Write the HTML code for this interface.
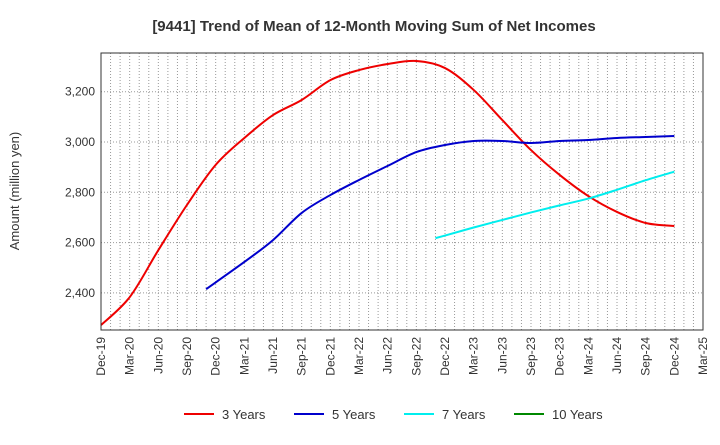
<!DOCTYPE html>
<html><head><meta charset="utf-8"><style>
body{margin:0;background:#fff;font-family:"Liberation Sans",sans-serif}
</style></head><body>
<svg id="c" width="720" height="440" xmlns="http://www.w3.org/2000/svg">
<text x="374" y="31" text-anchor="middle" font-size="15" font-weight="bold" fill="#333">[9441]  Trend of Mean of 12-Month Moving Sum of Net Incomes</text>
<text transform="translate(19,191) rotate(-90)" text-anchor="middle" font-size="13" fill="#333">Amount (million yen)</text>
<g id="grid"></g><g id="series"></g><g id="axes"></g><g id="legend"></g>
</svg>
<script>
const xTicks=["Dec-19","Mar-20","Jun-20","Sep-20","Dec-20","Mar-21","Jun-21","Sep-21","Dec-21","Mar-22","Jun-22","Sep-22","Dec-22","Mar-23","Jun-23","Sep-23","Dec-23","Mar-24","Jun-24","Sep-24","Dec-24","Mar-25"];
const yTicks=[2400,2600,2800,3000,3200];
const months3=[0,3,6,9,12,15,18,21,24,27,30,33,36,39,42,45,48,51,54,57,60];
const vals3=[2272,2383,2570,2750,2909,3016,3107,3167,3246,3286,3310,3322,3294,3207,3087,2968,2869,2785,2722,2678,2666];
const months5=[11,15,18,21,24,27,30,33,36,39,42,45,48,51,54,57,60];
const vals5=[2415,2523,2610,2718,2789,2849,2905,2960,2988,3004,3004,2996,3004,3008,3016,3020,3024];
const months7=[35,36,39,42,45,48,51,54,57,60];
const vals7=[2618,2628,2660,2690,2720,2748,2775,2810,2848,2882];
const months10=[];const vals10=[];
const L=101,R=703,T=53,B=330;
const X=m=>L+(m/63)*(R-L);
const Y=v=>142-(v-3000)*0.2515;
const NS="http://www.w3.org/2000/svg";
function mk(t,a,p){const e=document.createElementNS(NS,t);for(const k in a)e.setAttribute(k,a[k]);p.appendChild(e);return e;}
const grid=document.getElementById('grid'),axes=document.getElementById('axes'),ser=document.getElementById('series'),leg=document.getElementById('legend');
for(let m=1;m<63;m++){const g=mk('line',{x1:X(m),x2:X(m),y1:T,y2:B,stroke:'#999','stroke-dasharray':'1,2','stroke-width':1},grid);

}
yTicks.forEach(v=>{const g=mk('line',{x1:L,x2:R,y1:Y(v),y2:Y(v),stroke:'#999','stroke-dasharray':'1,2'},grid);


const t=mk('text',{x:L-6,y:Y(v)+4,'text-anchor':'end','font-size':12,fill:'#333'},axes);t.textContent=v.toLocaleString('en-US');

});
const fr=mk('rect',{x:L,y:T,width:R-L,height:B-T,fill:'none',stroke:'#333'},axes);


xTicks.forEach((s,i)=>{const x=X(i*3);const t=mk('text',{transform:`translate(${x+4},${B+7}) rotate(-90)`,'text-anchor':'end','font-size':12,fill:'#333'},axes);t.textContent=s;

});
function path(ms,vs){const p=ms.map((m,i)=>[X(m),Y(vs[i])]);if(p.length<2)return '';let d=`M${p[0][0]},${p[0][1]}`;
for(let i=0;i<p.length-1;i++){const p0=p[i-1]||p[i],p1=p[i],p2=p[i+1],p3=p[i+2]||p2;
d+=` C${p1[0]+(p2[0]-p0[0])/6},${p1[1]+(p2[1]-p0[1])/6} ${p2[0]-(p3[0]-p1[0])/6},${p2[1]-(p3[1]-p1[1])/6} ${p2[0]},${p2[1]}`;}return d;}
const S=[["3 Years",months3,vals3,"#e00"],["5 Years",months5,vals5,"#00c"],["7 Years",months7,vals7,"#0ee"],["10 Years",months10,vals10,"#080"]];
const lx=[184,294,404,514];
S.forEach((s,i)=>{if(s[1].length){const p=mk('path',{d:path(s[1],s[2]),fill:'none',stroke:s[3],'stroke-width':2},ser);

}
const l=mk('line',{x1:lx[i],x2:lx[i]+30,y1:414,y2:414,stroke:s[3],'stroke-width':2},leg);


const t=mk('text',{x:lx[i]+38,y:419,'font-size':13,fill:'#333'},leg);t.textContent=s[0];

});
</script>
</body></html>
